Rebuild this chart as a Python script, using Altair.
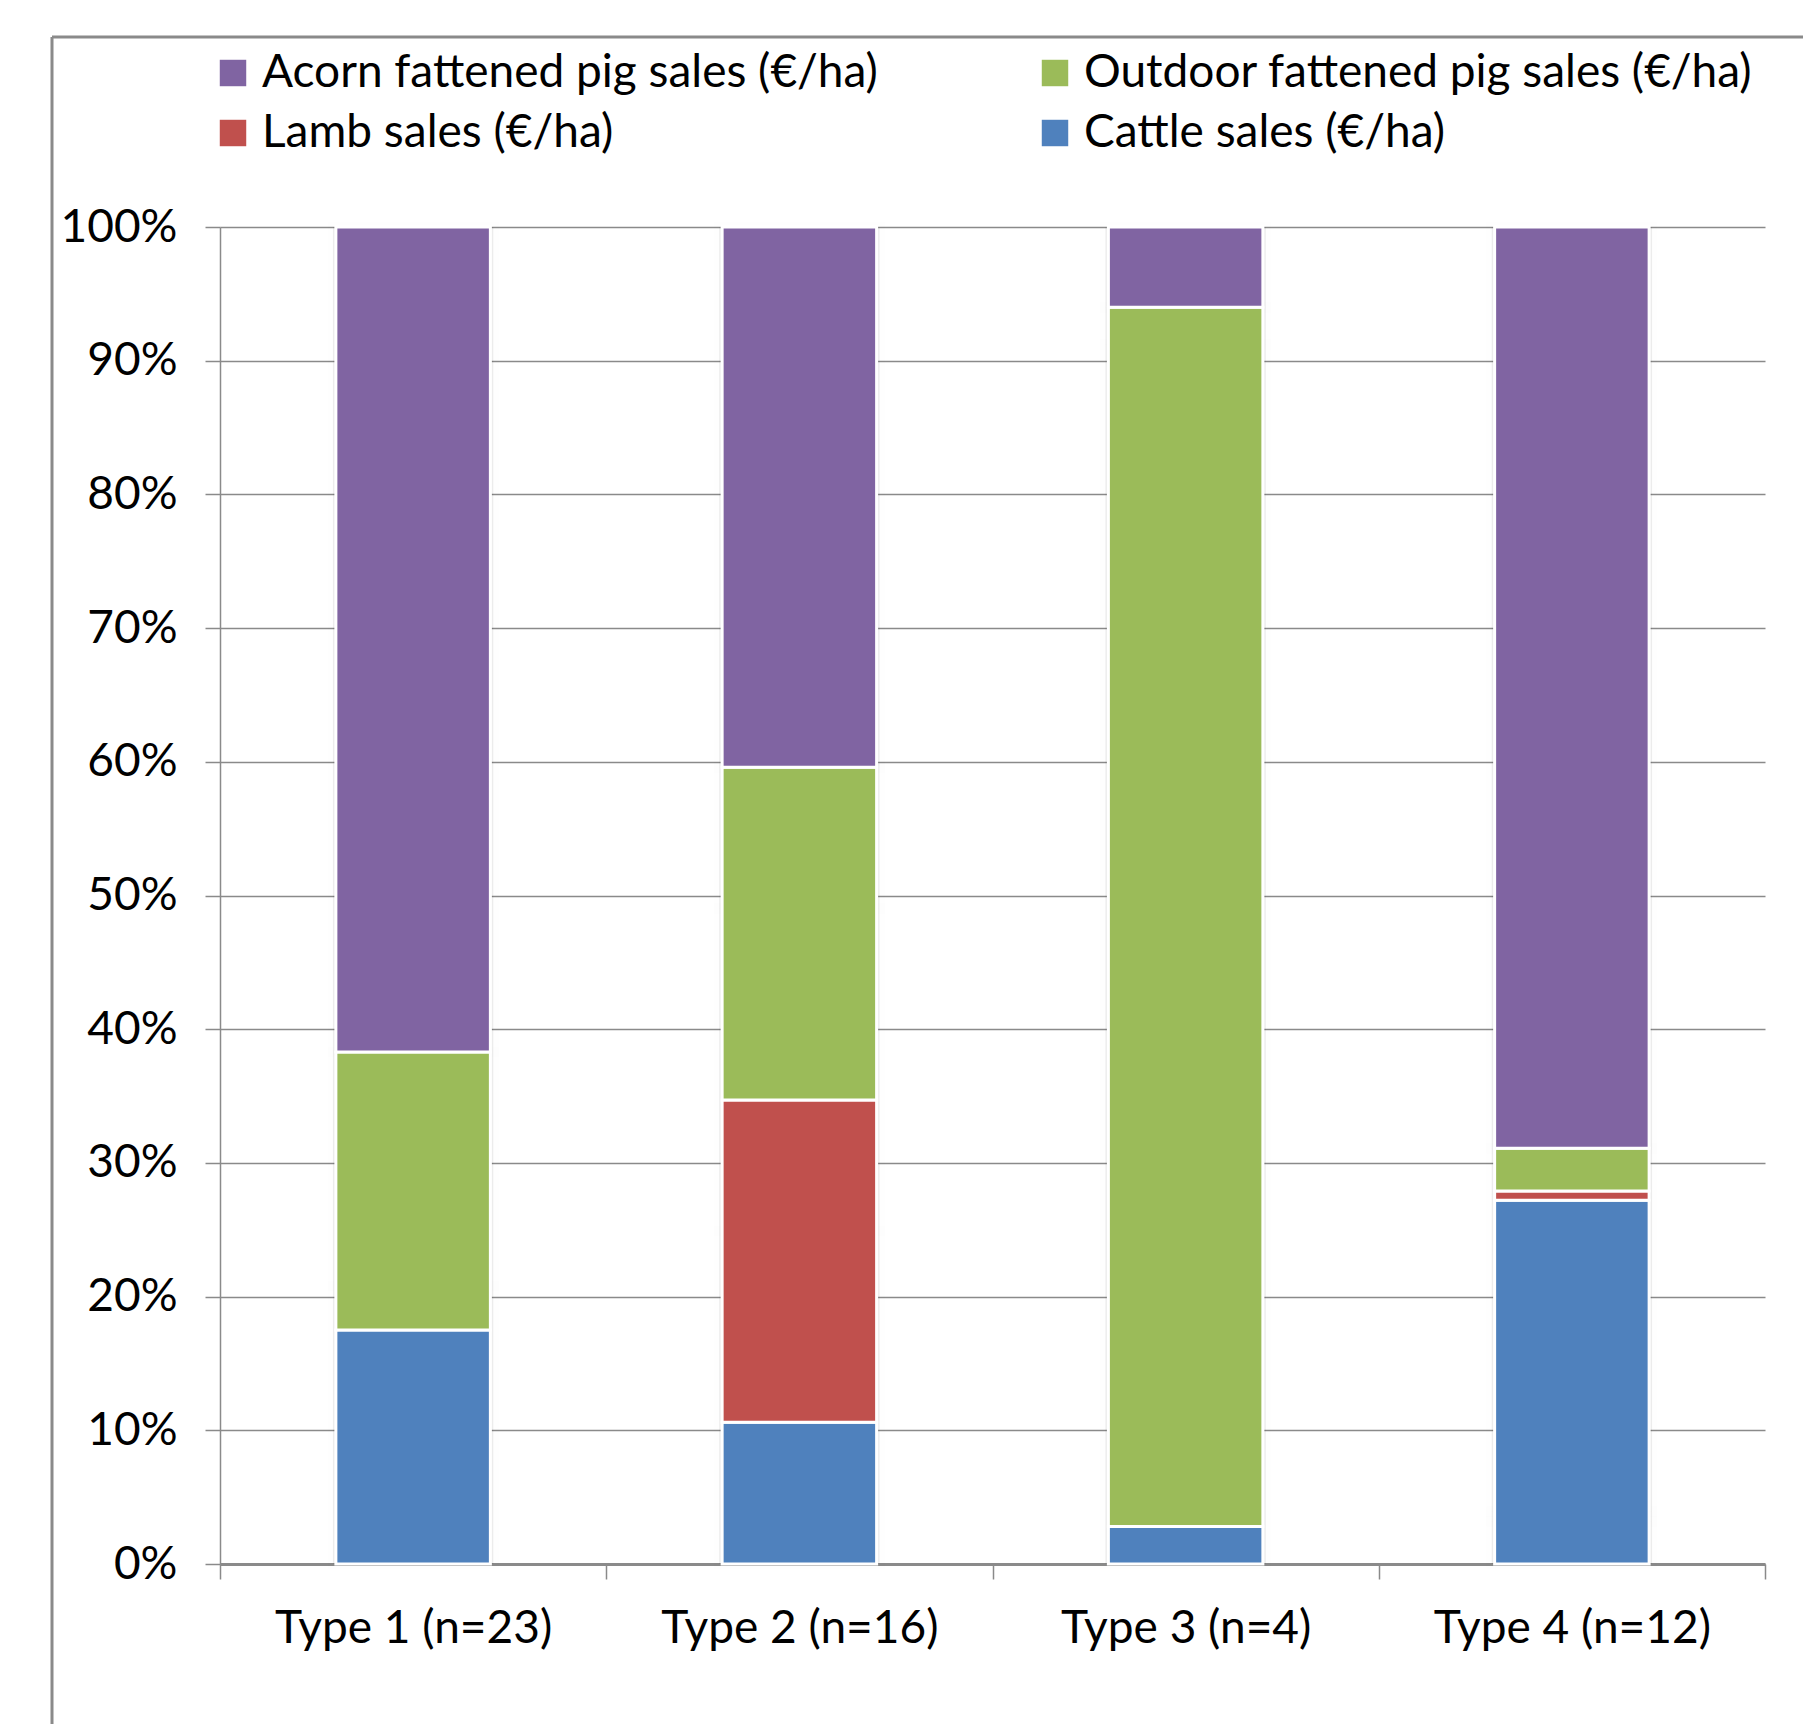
import altair as alt
import pandas as pd

types = ["Type 1 (n=23)", "Type 2 (n=16)", "Type 3 (n=4)", "Type 4 (n=12)"]
series = [
    "Acorn fattened pig sales (€/ha)",
    "Outdoor fattened pig sales (€/ha)",
    "Lamb sales (€/ha)",
    "Cattle sales (€/ha)",
]
colors = ["#8064A2", "#9BBB59", "#C0504D", "#4F81BD"]

cattle = [17.5, 10.6, 2.8, 27.2]
lamb = [0.0, 24.1, 0.0, 0.7]
outdoor = [20.8, 24.9, 91.2, 3.2]
acorn = [61.7, 40.4, 6.0, 68.9]

rows = []
for i, t in enumerate(types):
    for k, (name, vals) in enumerate(
        [(series[3], cattle), (series[2], lamb), (series[1], outdoor), (series[0], acorn)]
    ):
        if vals[i] > 0:
            rows.append({"type": t, "series": name, "value": vals[i], "stackorder": k})
df = pd.DataFrame(rows)

FONT = "Lato"
GRAY = "#8a8a8a"
FS = 46

xenc = alt.X(
    "type:N",
    sort=types,
    scale=alt.Scale(paddingInner=0, paddingOuter=0),
    axis=alt.Axis(
        title=None,
        labelAngle=0,
        tickBand="extent",
        ticks=True,
        tickSize=15,
        tickColor=GRAY,
        tickWidth=1.5,
        domainColor=GRAY,
        domainWidth=3,
        labelFontSize=FS,
        labelFont=FONT,
        labelColor="#000000",
        labelPadding=27,
        labelLimit=600,
        grid=False,
    ),
)

shadow = alt.Chart(df).mark_bar(
    width=alt.RelativeBandSize(0.415),
    color="#000000",
    opacity=0.07,
    stroke="#000000",
    strokeOpacity=0.05,
    strokeWidth=10,
).encode(
    x=xenc,
    y=alt.Y("value:Q", stack="normalize", scale=alt.Scale(domain=[0, 1])),
    detail="series:N",
)

bars = alt.Chart(df).mark_bar(
    width=alt.RelativeBandSize(0.4), stroke="white", strokeWidth=3
).encode(
    x=xenc,
    y=alt.Y(
        "value:Q",
        stack="normalize",
        scale=alt.Scale(domain=[0, 1]),
        axis=alt.Axis(
            title=None,
            format=".0%",
            values=[i / 10 for i in range(11)],
            tickSize=15,
            tickColor=GRAY,
            tickWidth=1.5,
            domainColor=GRAY,
            domainWidth=1.5,
            gridColor=GRAY,
            gridWidth=1.5,
            labelFontSize=FS,
            labelFont=FONT,
            labelColor="#000000",
            labelPadding=28,
        ),
    ),
    color=alt.Color(
        "series:N",
        sort=series,
        scale=alt.Scale(domain=series, range=colors),
        legend=alt.Legend(
            title=None,
            orient="none",
            legendX=-10,
            legendY=-177,
            direction="horizontal",
            columns=2,
            columnPadding=154,
            rowPadding=14,
            symbolType="square",
            symbolSize=700,
            symbolStrokeWidth=0,
            labelFontSize=FS,
            labelFont=FONT,
            labelColor="#000000",
            labelOffset=6,
            labelLimit=1000,
        ),
    ),
    order=alt.Order("stackorder:Q", sort="ascending"),
)

border_df = pd.DataFrame({"a": [0]})
top_border = alt.Chart(border_df).mark_rule(color=GRAY, strokeWidth=3).encode(
    x=alt.value(-168), x2=alt.value(1583), y=alt.value(-190)
)
left_border = alt.Chart(border_df).mark_rule(color=GRAY, strokeWidth=3).encode(
    x=alt.value(-168), y=alt.value(-190), y2=alt.value(1497)
)

chart = (
    alt.layer(shadow, bars, top_border, left_border)
    .properties(
        width=1545,
        height=1337,
        autosize=alt.AutoSizeParams(type="none"),
        padding={"left": 220, "top": 227, "right": 38, "bottom": 160},
        background="white",
    )
    .configure_view(stroke=None)
)

chart.save("out.html", embed_options={"renderer": "svg", "actions": False})
